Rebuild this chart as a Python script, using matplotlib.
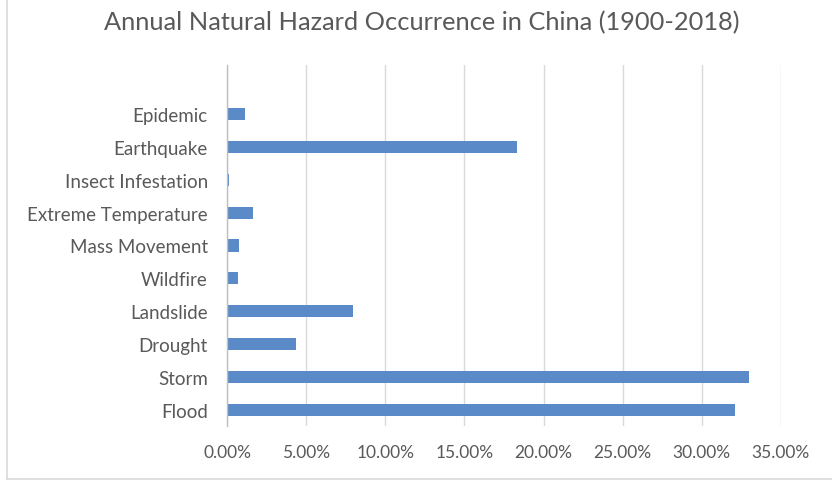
import matplotlib
matplotlib.use("Agg")
import matplotlib.pyplot as plt
from matplotlib.lines import Line2D
from matplotlib.ticker import FuncFormatter

# hazard types, bottom to top, and their share of annual occurrences (%)
hazards = ["Flood", "Storm", "Drought", "Landslide", "Wildfire",
           "Mass Movement", "Extreme Temperature", "Insect Infestation",
           "Earthquake", "Epidemic"]
share = [32.13, 33.0, 4.33, 7.96, 0.69, 0.76, 1.6, 0.13, 18.34, 1.09]
x_ticks = [0, 5, 10, 15, 20, 25, 30, 35]

BAR = "#5B8AC8"
TXT = "#595959"
GRID = "#D9D9D9"

plt.rcParams["font.family"] = ["Lato", "DejaVu Sans"]

fig = plt.figure(figsize=(8.32, 4.81), dpi=100)
W, H = 832, 481
ax = fig.add_axes([227.3 / W, 1 - 427 / H, (780.7 - 227.3) / W, (427 - 66) / H])

ypos = list(range(len(hazards)))
ax.barh(ypos, share, height=0.37, color=BAR, zorder=3)

ax.set_xlim(0, 35)
ax.set_ylim(-0.5, len(hazards) + 0.5)
ax.set_xticks(x_ticks)
ax.xaxis.set_major_formatter(FuncFormatter(lambda v, _: f"{v:.2f}%"))
ax.set_yticks(ypos)
ax.set_yticklabels(hazards)
ax.tick_params(axis="both", length=0, colors=TXT)
ax.tick_params(axis="y", pad=14, labelsize=13.5)
ax.tick_params(axis="x", pad=13, labelsize=12.5)

ax.grid(axis="x", color=GRID, lw=1.0, zorder=0)
for s in ["top", "right", "bottom"]:
    ax.spines[s].set_visible(False)
ax.spines["left"].set_color("#BFBFBF")
ax.spines["left"].set_linewidth(1.0)
ax.spines["left"].set_zorder(4)

fig.text(422 / W, 1 - 23 / H, "Annual Natural Hazard Occurrence in China (1900-2018)",
         ha="center", va="center", fontsize=18.3, color=TXT)

# chart frame (left and bottom edges)
fig.add_artist(Line2D([7 / W, 7 / W], [1 / H, 1], color="#D9D9D9", lw=1.2,
                      transform=fig.transFigure))
fig.add_artist(Line2D([7 / W, 1], [1.5 / H, 1.5 / H], color="#D9D9D9", lw=1.2,
                      transform=fig.transFigure))

fig.savefig("out.png", dpi=100, facecolor="white")
